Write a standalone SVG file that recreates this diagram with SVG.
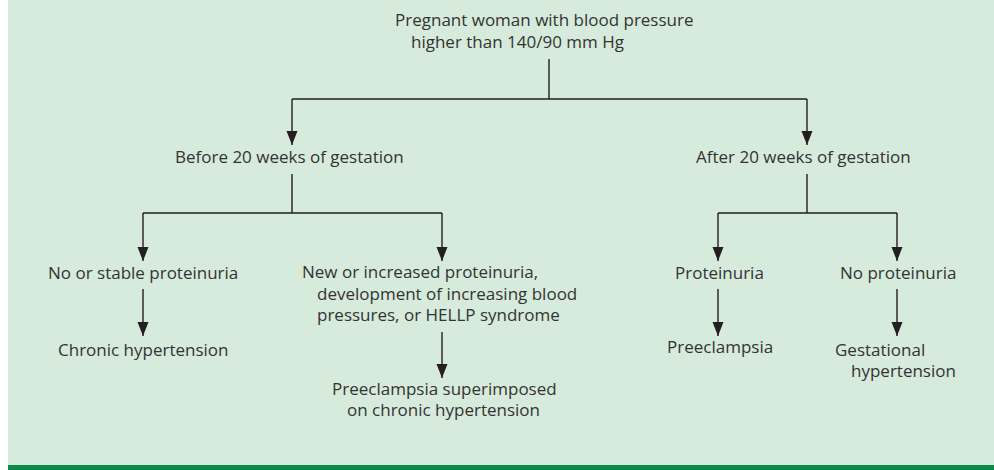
<svg xmlns="http://www.w3.org/2000/svg" width="994" height="470" viewBox="0 0 994 470">
<style>
.t{font-family:"Open Sans","Noto Sans","Liberation Sans",sans-serif;font-size:17px;fill:#333333}
.c{stroke:#231f20;stroke-width:1.4;fill:none}
</style>
<defs>
<marker id="ah" viewBox="0 -6 14 12" markerUnits="userSpaceOnUse" markerWidth="14" markerHeight="12" refX="14" refY="0" orient="auto">
<path d="M0,-5.5 L14,0 L0,5.5 Z" fill="#231f20"/>
</marker>
</defs>
<rect x="8" y="0" width="986" height="465" fill="#d6ebdc"/>
<rect x="8" y="465" width="986" height="5" fill="#0b8a4b"/>
<g id="connectors">
<path class="c" d="M549,59 V99 M292,99 H807"/>
<path class="c" d="M292,99 V145" marker-end="url(#ah)"/>
<path class="c" d="M807,99 V145" marker-end="url(#ah)"/>
<path class="c" d="M292,174 V213 M143,213 H442"/>
<path class="c" d="M143,213 V261" marker-end="url(#ah)"/>
<path class="c" d="M442,213 V261" marker-end="url(#ah)"/>
<path class="c" d="M807,174 V213 M718,213 H897"/>
<path class="c" d="M718,213 V261" marker-end="url(#ah)"/>
<path class="c" d="M897,213 V261" marker-end="url(#ah)"/>
<path class="c" d="M143,289 V336" marker-end="url(#ah)"/>
<path class="c" d="M442,332 V378" marker-end="url(#ah)"/>
<path class="c" d="M718,289 V336" marker-end="url(#ah)"/>
<path class="c" d="M897,289 V336" marker-end="url(#ah)"/>
</g>
<g id="n-root"><text class="t"><tspan x="395" y="26">Pregnant woman with blood pressure</tspan><tspan x="411" y="48">higher than 140/90 mm Hg</tspan></text></g>
<g id="n-before"><text class="t" x="175" y="163">Before 20 weeks of gestation</text></g>
<g id="n-after"><text class="t" x="696" y="163">After 20 weeks of gestation</text></g>
<g id="n-stable"><text class="t" x="48" y="279">No or stable proteinuria</text></g>
<g id="n-chronic"><text class="t" x="58" y="356">Chronic hypertension</text></g>
<g id="n-new"><text class="t"><tspan x="302" y="278">New or increased proteinuria,</tspan><tspan x="317" y="300">development of increasing blood</tspan><tspan x="317" y="321">pressures, or HELLP syndrome</tspan></text></g>
<g id="n-super"><text class="t"><tspan x="332" y="395">Preeclampsia superimposed</tspan><tspan x="347" y="416">on chronic hypertension</tspan></text></g>
<g id="n-prot"><text class="t" x="675" y="279">Proteinuria</text></g>
<g id="n-noprot"><text class="t" x="840" y="279">No proteinuria</text></g>
<g id="n-pre"><text class="t" x="667" y="353">Preeclampsia</text></g>
<g id="n-gest"><text class="t"><tspan x="835" y="356">Gestational</tspan><tspan x="851" y="377">hypertension</tspan></text></g>
</svg>
